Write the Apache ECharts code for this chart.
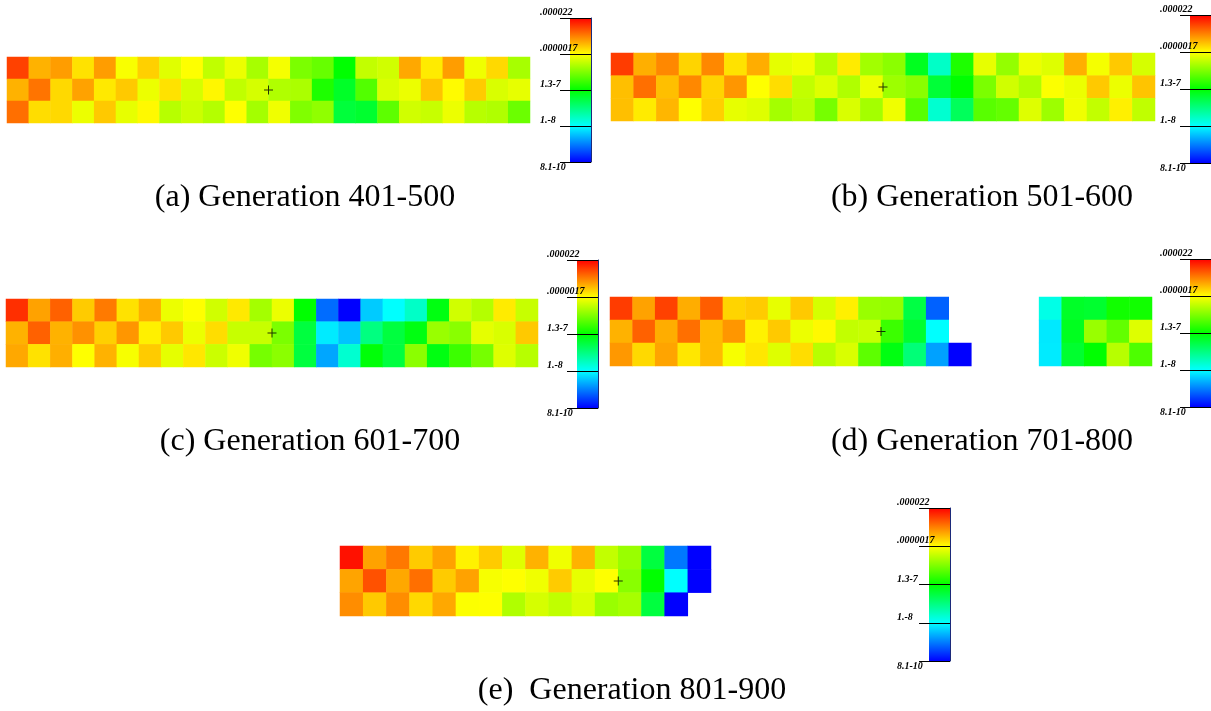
<!DOCTYPE html>
<html>
<head>
<meta charset="utf-8">
<title>Error maps, generations 401-900</title>
<script src="https://cdn.jsdelivr.net/npm/echarts@6/dist/echarts.min.js"></script>
<style>
  html, body { margin: 0; padding: 0; background: #ffffff; }
  #chart { width: 1211px; height: 711px; }
</style>
</head>
<body>
<div id="chart"></div>
<script>
// log10 of the error, three rows per generation block (top to bottom); null = no cell
const gen401to500 = [
  [-4.94,-5.43,-5.34,-5.64,-5.34,-5.79,-5.56,-5.90,-5.77,-6.04,-5.85,-6.15,-5.81,-6.34,-6.43,-6.88,-6.03,-5.97,-5.39,-5.68,-5.34,-5.83,-5.60,-6.15],
  [-5.43,-5.16,-5.60,-5.36,-5.67,-5.53,-5.85,-5.64,-5.95,-5.73,-6.04,-5.95,-6.11,-6.13,-6.75,-7.05,-6.52,-5.93,-5.85,-5.51,-5.75,-5.54,-5.93,-5.87],
  [-5.14,-5.62,-5.60,-5.85,-5.53,-5.87,-5.74,-6.08,-5.99,-6.09,-5.77,-6.16,-5.83,-6.32,-6.25,-7.13,-7.08,-6.47,-5.97,-6.01,-5.85,-6.08,-6.11,-6.41]
];
const gen501to600 = [
  [-4.92,-5.42,-5.25,-5.58,-5.25,-5.64,-5.41,-5.88,-5.83,-6.09,-5.68,-6.17,-6.27,-7.01,-7.74,-6.75,-5.87,-6.23,-5.85,-5.91,-5.42,-5.81,-5.53,-5.95],
  [-5.49,-5.14,-5.49,-5.25,-5.58,-5.31,-5.77,-5.62,-6.03,-5.91,-6.11,-5.85,-6.19,-6.28,-7.12,-6.88,-6.34,-5.97,-6.11,-5.78,-5.85,-5.53,-5.85,-5.51],
  [-5.49,-5.68,-5.45,-5.77,-5.56,-5.87,-5.91,-6.16,-6.06,-6.36,-5.93,-6.16,-5.83,-6.49,-7.78,-7.27,-6.49,-6.44,-5.91,-6.19,-5.83,-6.03,-5.70,-6.04]
];
const gen601to700 = [
  [-4.86,-5.36,-5.08,-5.54,-5.19,-5.64,-5.42,-5.85,-5.77,-5.97,-5.67,-6.16,-5.85,-6.88,-8.62,-9.09,-8.21,-7.98,-7.74,-6.95,-5.97,-6.09,-5.68,-6.01],
  [-5.43,-5.08,-5.43,-5.29,-5.56,-5.31,-5.70,-5.53,-5.85,-5.62,-6.01,-6.01,-6.34,-7.15,-8.07,-8.24,-7.43,-7.15,-6.95,-6.21,-6.28,-5.88,-5.93,-5.53],
  [-5.39,-5.64,-5.42,-5.77,-5.43,-5.80,-5.54,-5.88,-5.66,-5.99,-5.83,-6.36,-6.27,-7.15,-8.37,-7.78,-6.91,-7.15,-6.27,-6.95,-6.62,-6.36,-5.91,-6.08]
];
const gen701to800 = [
  [-4.92,-5.36,-4.94,-5.41,-5.06,-5.58,-5.54,-5.87,-5.53,-5.95,-5.70,-6.21,-6.23,-7.17,-8.67,null,null,null,null,-7.88,-7.05,-7.08,-6.80,-6.80],
  [-5.43,-5.08,-5.41,-5.14,-5.47,-5.31,-5.71,-5.53,-5.85,-5.74,-6.03,-6.01,-6.62,-7.08,-7.98,null,null,null,null,-8.08,-7.01,-6.21,-6.45,-5.91],
  [-5.32,-5.60,-5.37,-5.66,-5.47,-5.80,-5.66,-5.91,-5.62,-6.08,-5.93,-6.47,-6.95,-7.39,-8.39,-9.09,null,null,null,-8.07,-7.08,-6.88,-6.08,-6.54]
];
const gen801to900 = [
  [-4.73,-5.36,-5.18,-5.54,-5.36,-5.71,-5.54,-5.90,-5.43,-5.83,-5.43,-6.03,-6.21,-7.15,-8.57,-9.09],
  [-5.37,-5.01,-5.39,-5.14,-5.54,-5.36,-5.80,-5.77,-5.83,-5.54,-5.87,-5.77,-6.28,-6.88,-7.98,-9.09],
  [-5.27,-5.53,-5.27,-5.60,-5.39,-5.78,-5.77,-6.11,-5.95,-6.04,-5.93,-6.21,-6.15,-7.15,-9.09,null]
];

// colour scale: log10 range and its five labelled stops (bottom to top)
const errorLow = Math.log10(8.1e-10);
const errorHigh = Math.log10(2.2e-5);
const scaleTickLabels = ['8.1-10', '1.-8', '1.3-7', '.0000017', '.000022'];
const scaleColors = ['#0000ff', '#00ffff', '#00ff00', '#ffff00', '#ff0000'];

const captions = [
  '(a) Generation 401-500',
  '(b) Generation 501-600',
  '(c) Generation 601-700',
  '(d) Generation 701-800',
  '(e)  Generation 801-900'
];

// cross marker: sits on the left edge of this column, in this row
const markerCol = 12;
const markerRow = 1;

// layout of each panel: map, colour bar, caption
const panels = [
  { data: gen401to500, map: { left: 7,   top: 57,  width: 523, height: 66 }, bar: { left: 570,  top: 18,  width: 21, height: 144 }, cap: [305, 197] },
  { data: gen501to600, map: { left: 611, top: 53,  width: 544, height: 68 }, bar: { left: 1190, top: 15,  width: 21, height: 148 }, cap: [982, 197] },
  { data: gen601to700, map: { left: 6,   top: 299, width: 532, height: 68 }, bar: { left: 577,  top: 260, width: 21, height: 148 }, cap: [310, 441] },
  { data: gen701to800, map: { left: 610, top: 297, width: 542, height: 69 }, bar: { left: 1190, top: 259, width: 21, height: 148 }, cap: [982, 441] },
  { data: gen801to900, map: { left: 340, top: 546, width: 371, height: 70 }, bar: { left: 929,  top: 508, width: 21, height: 153 }, cap: [632, 690] }
];

const grid = [], xAxis = [], yAxis = [], series = [], title = [];
const heatSeries = [];
const scaleFont = { fontFamily: '"Liberation Serif", serif', fontStyle: 'italic', fontWeight: 'bold',
                    fontSize: 10, color: '#000000' };

panels.forEach((p, i) => {
  const nCols = p.data[0].length;
  const nRows = p.data.length;
  const gMap = grid.length;
  grid.push(Object.assign({ containLabel: false }, p.map));
  const gBar = grid.length;
  grid.push(Object.assign({ containLabel: false }, p.bar));

  // heat map axes
  const xCat = xAxis.length;
  xAxis.push({ type: 'category', gridIndex: gMap, show: false,
    data: Array.from({ length: nCols }, (_, c) => String(c + 1)) });
  const yCat = yAxis.length;
  yAxis.push({ type: 'category', gridIndex: gMap, show: false, inverse: true,
    data: Array.from({ length: nRows }, (_, r) => String(r + 1)) });
  // continuous axes over the same grid for the cross marker
  const xVal = xAxis.length;
  xAxis.push({ type: 'value', gridIndex: gMap, show: false, min: 0, max: nCols });
  const yVal = yAxis.length;
  yAxis.push({ type: 'value', gridIndex: gMap, show: false, min: 0, max: nRows, inverse: true });

  const cells = [];
  p.data.forEach((row, r) => row.forEach((v, c) => { if (v !== null) cells.push([c, r, v]); }));
  heatSeries.push(series.length);
  series.push({
    type: 'heatmap', xAxisIndex: xCat, yAxisIndex: yCat, data: cells,
    silent: true, progressive: 0,
    itemStyle: { borderWidth: 0 },
    emphasis: { disabled: true }
  });
  series.push({
    type: 'scatter', xAxisIndex: xVal, yAxisIndex: yVal, silent: true, z: 5,
    data: [[markerCol, markerRow + 0.5]],
    symbol: 'path://M4,0h1v9h-1zM0,4h9v1h-9z', symbolSize: 9,
    itemStyle: { color: '#000000' }
  });

  // colour bar
  const xBar = xAxis.length;
  xAxis.push({ type: 'category', gridIndex: gBar, show: false, data: ['scale'] });
  const yBar = yAxis.length;
  yAxis.push({
    type: 'value', gridIndex: gBar, position: 'left', min: 0, max: 4, interval: 1, z: 10,
    axisLine: { show: false },
    axisTick: { show: true, length: 10, lineStyle: { color: '#000000', width: 1 } },
    splitLine: { show: true, lineStyle: { color: '#000000', width: 1 } },
    axisLabel: {
      show: true, align: 'left', margin: p.bar.left === 929 ? 32 : 30, verticalAlign: 'middle',
      formatter: (v) => (v === 0 ? '{lo|' : '{hi|') + scaleTickLabels[Math.round(v)] + '}',
      rich: {
        hi: Object.assign({ padding: [0, 0, 11, 0] }, scaleFont),
        lo: Object.assign({ padding: [11, 0, 0, 0] }, scaleFont)
      }
    }
  });
  yAxis.push({
    type: 'value', gridIndex: gBar, position: 'right', min: 0, max: 4, z: 10,
    axisLine: { show: true, lineStyle: { color: '#1c2a7a', width: 1 } },
    axisTick: { show: false }, axisLabel: { show: false }, splitLine: { show: false }
  });
  series.push({
    type: 'bar', xAxisIndex: xBar, yAxisIndex: yBar, silent: true,
    data: [4], barWidth: '100%', barCategoryGap: 0,
    itemStyle: {
      color: new echarts.graphic.LinearGradient(0, 1, 0, 0, scaleColors.map((col, k) => ({ offset: k / (scaleColors.length - 1), color: col })))
    }
  });

  title.push({
    text: captions[i], left: p.cap[0], top: p.cap[1] - 15, textAlign: 'center', padding: 0,
    textStyle: { fontFamily: '"Liberation Serif", "Times New Roman", serif', fontSize: 32,
                 fontWeight: 'normal', color: '#000000' }
  });
});

const chart = echarts.init(document.getElementById('chart'), null, { renderer: 'canvas' });
chart.setOption({
  animation: false,
  backgroundColor: '#ffffff',
  title: title,
  grid: grid,
  xAxis: xAxis,
  yAxis: yAxis,
  visualMap: {
    type: 'continuous', show: false, dimension: 2,
    min: errorLow, max: errorHigh,
    seriesIndex: heatSeries,
    inRange: { color: scaleColors }
  },
  series: series
});
</script>
</body>
</html>
